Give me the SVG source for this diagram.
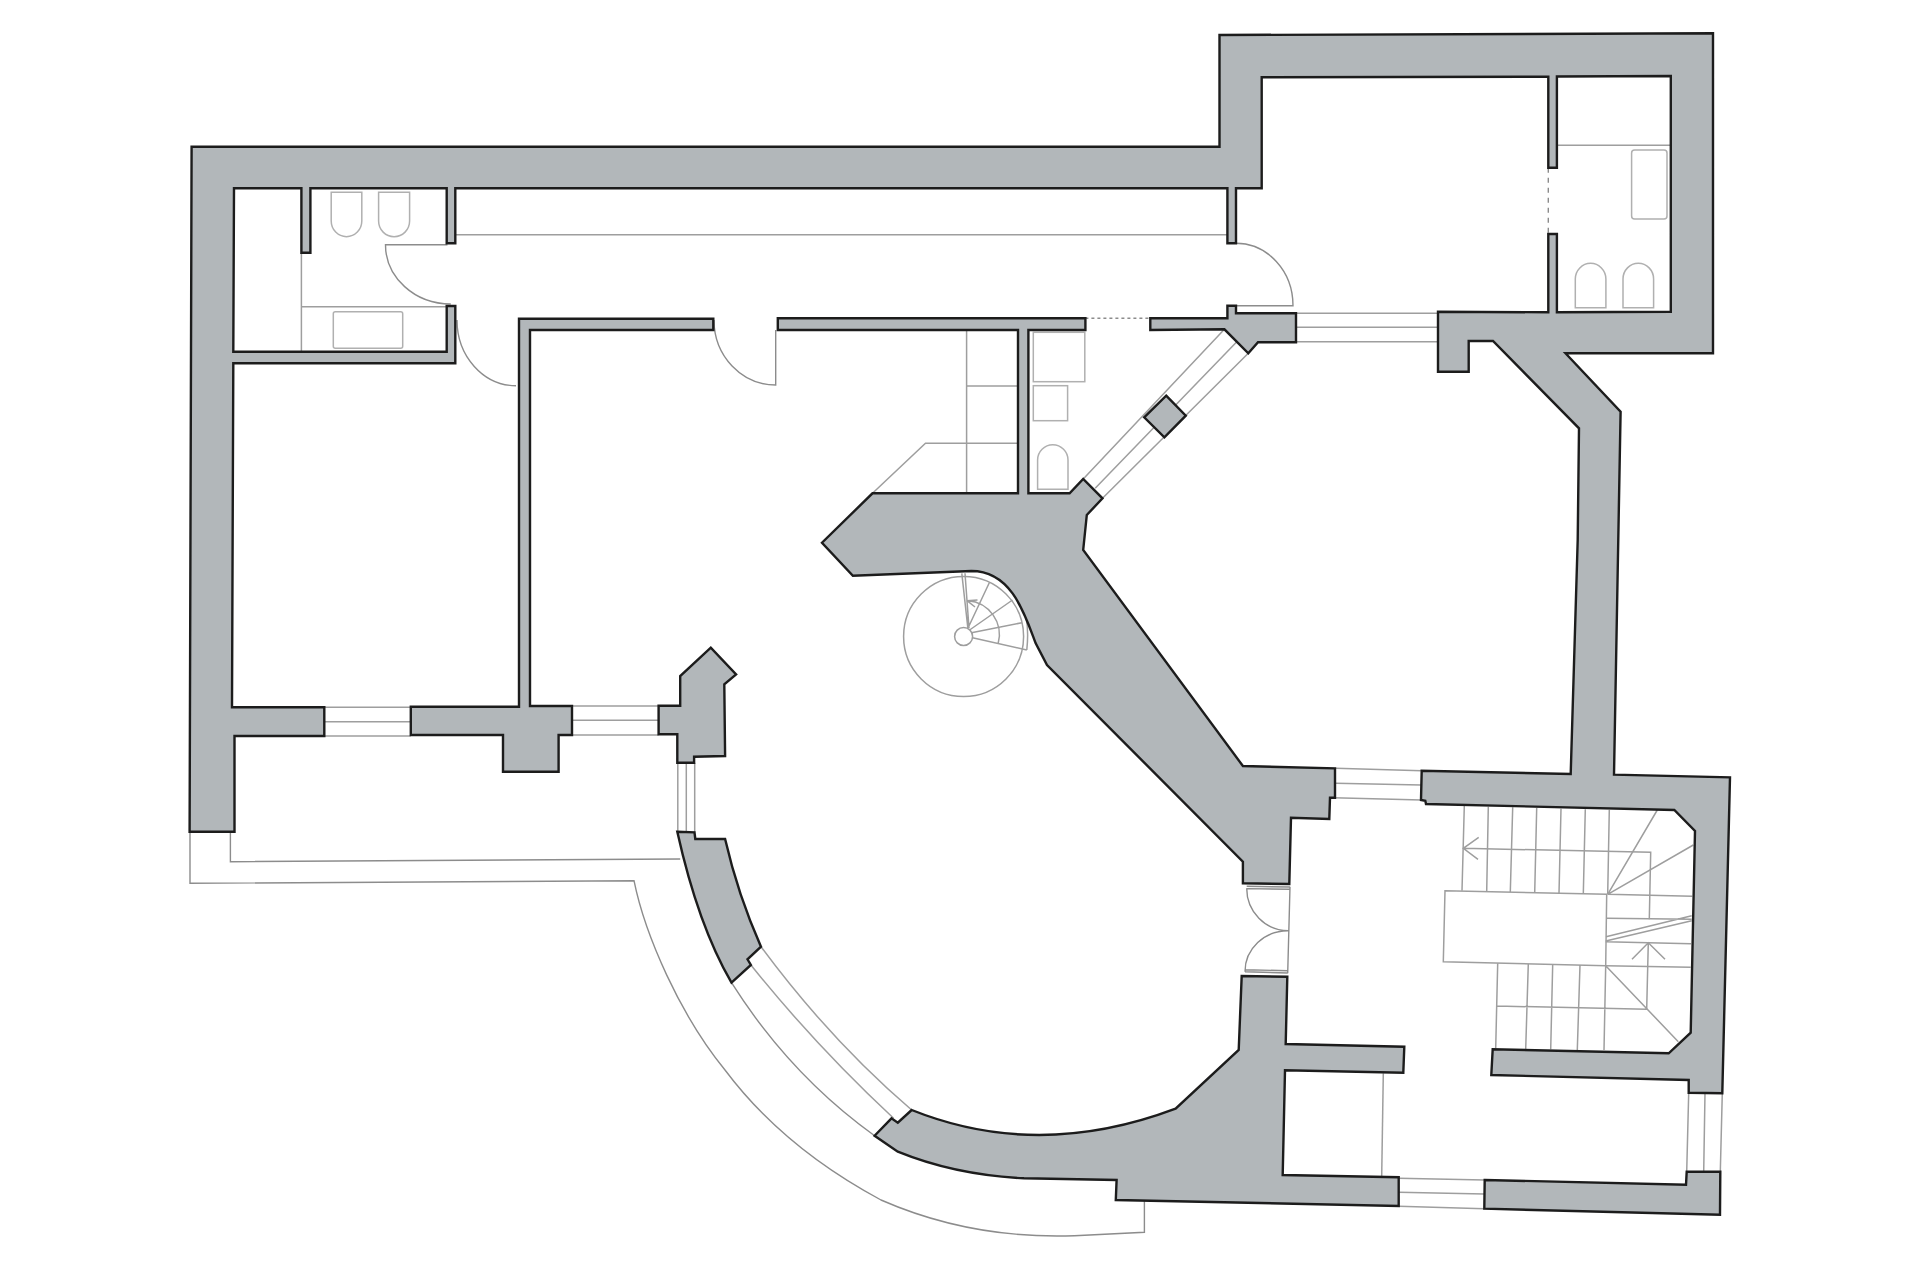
<svg xmlns="http://www.w3.org/2000/svg" width="1920" height="1280" viewBox="0 0 1920 1280">
<style>
.w{fill:#b2b7ba;stroke:#1c1c1c;stroke-width:2.4;stroke-linejoin:miter}
.g{fill:none;stroke:#9e9e9e;stroke-width:1.5}
.d{fill:none;stroke:#8c8c8c;stroke-width:1.4}
.f{fill:none;stroke:#b0b0b0;stroke-width:1.5}
</style>
<rect width="1920" height="1280" fill="#fff"/>
<g id="terrace" class="d">
<path d="M190 832V883.3L634 880.7C645 935 680 1015 725 1070C770 1130 825 1170 881 1200C945 1228 1010 1238 1074.5 1235.7L1144.4 1232.3V1200.7"/>
<path d="M230.4 832V861.7L680.2 859"/>
<path d="M731.5 982.7Q790 1075 874.6 1135.7"/>
</g>
<g id="windows" class="g">
<path d="M324.3 707.3H410.8M324.3 721.7H410.8M324.3 736H410.8"/>
<path d="M572 706H658.6M572 720.3H658.6M572 735H658.6"/>
<path d="M677.8 762.7V831.7M686.3 762.7V831.7M694.7 762.7V832"/>
<path d="M761 946.7Q830 1040 911.7 1110M750.9 965Q815 1045 893.6 1118.3"/>
<path d="M1296 313.3H1438M1296 327.3H1438M1296 341.7H1438"/>
<path d="M1224.4 329.3L1083 479.3M1237.8 340.7L1095.2 488.3M1248.3 353.3L1102.5 498.3"/>
<path d="M1335.7 768.3L1421.7 770.7M1335.7 783.3L1421 785M1333.3 797.7L1421.7 800"/>
<path d="M1398.7 1178.3L1484.7 1180M1398.7 1192.3L1484.5 1194M1398.7 1206.3L1484.3 1208.7"/>
<path d="M1688.7 1093L1686.7 1171.7M1705 1093L1703.7 1171.7M1722.3 1093L1720.3 1171.7"/>
</g>
<g id="fixtures" class="f">
<path d="M331.2 192.3H361.8V221A15.3 15.7 0 0 1 331.2 221Z"/>
<path d="M378.6 192.3H409.6V221A15.5 15.7 0 0 1 378.6 221Z"/>
<rect x="333.3" y="311.7" width="69.4" height="36.6" rx="2"/>
<rect x="1631.6" y="150" width="35.4" height="69" rx="3"/>
<path d="M1575.3 307.7V279A15.3 15.7 0 0 1 1605.9 279V307.7Z"/>
<path d="M1623 307.7V279A15.3 15.7 0 0 1 1653.6 279V307.7Z"/>
<rect x="1033.3" y="332.3" width="51.5" height="49.4"/>
<rect x="1033.3" y="385.7" width="34.3" height="35"/>
<path d="M1037.6 489.3V460A15.2 15.2 0 0 1 1068 460V489.3Z"/>
</g>
<g id="interior" class="g">
<path d="M301.4 252.7V351.7M301.4 306.7H446.7"/>
<path d="M455 234.7H1227.4"/>
<path d="M1557 145.3H1670"/>
<path d="M966.6 330V493.3M966.6 386H1018M1018 443.3H925.5L872.5 493.3"/>
<path d="M1383.3 1073.3L1381.7 1176.7"/>
</g>
<g id="doors" class="d">
<path d="M457 320A59 65.7 0 0 0 516 385.7"/>
<path d="M714 320A61.7 65 0 0 0 775.7 385V330"/>
<path d="M447.5 244.7H385.5A65.3 59.3 0 0 0 450.8 304"/>
<path d="M1236 243.3A57 62.4 0 0 1 1293 305.7H1227.4"/>
<path d="M1085.4 318.3H1150.3" stroke-dasharray="3 3" stroke-width="1.6"/>
<path d="M1548.3 167.7V234" stroke-dasharray="5 5"/>
<path d="M1290 886.7L1287.7 973.3M1246.7 886.3L1290 887M1246.7 888.6L1290 889.3M1246.7 888.3A41.6 42.4 0 0 0 1288.3 930.7M1245 971.7L1287.7 973M1245 969.7L1287.7 970.7M1245 971.7A43 41 0 0 1 1288.3 930.7"/>
</g>
<g id="spiral-stair" class="g">
<circle cx="963.6" cy="636.5" r="60"/>
<circle cx="963.6" cy="636.5" r="9"/>
<path d="M961.8 573.3L967.9 628.3M965 573.3L969 628.3M989.3 582.7L967.9 628.3M1012.5 600L969.6 630M1022 622.7L971.4 632.7M1026.8 650L972.5 637.7M1026.8 650Q1030 620 1021 602"/>
<path d="M967.9 600.7A34 34 0 0 1 998.2 643.3M967 600.7L977.5 600M967 600.7L975 607"/>
</g>
<g id="main-stair" class="g">
<path d="M1445 890.7L1606.7 894.3L1605.7 965.7L1443.3 961.7Z"/>
<path d="M1464.3 806L1462 890.7M1488.3 806.7L1486.7 891.7M1512.7 807.3L1510.3 892M1536.7 808L1534.7 892.7M1561 808.7L1559 893.3M1585.3 809.3L1583.3 894M1609.3 810L1607.7 894.3"/>
<path d="M1463.3 848.3L1650.7 852.3L1649.3 919.3M1478.7 837.3L1463.3 848.3L1478 859.3"/>
<path d="M1607.7 894.3L1657.3 810M1607.7 894.3L1693.3 845M1607.7 894.3L1692.3 896.3M1606.7 918.3L1691.7 919.3M1606 936.7L1691.7 915.7M1605.7 941L1691.7 920.7M1605.7 941.7L1691 943.7M1605.7 965.7L1690.7 967.3"/>
<path d="M1648.3 942.7L1646.7 1009.3M1632 959.3L1648.3 942.7L1665 959.3"/>
<path d="M1496.7 1006L1646.7 1009.3M1497.7 963.3L1495.7 1048.3M1528.3 964L1525.7 1049M1552.7 964.3L1550.7 1049.3M1580 965L1577.3 1050M1605.7 965.7L1604 1050M1605.7 965.7L1678.3 1041.7"/>
</g>
<g id="walls" class="w">
<path id="outer-wall" d="M189.6 831.7L191.6 146.7H1219.5V35L1713 33.3V353.3H1565.5L1620.6 411.7L1614 774.7L1730 777.3L1722.3 1093.3L1688.7 1092.7V1080L1491.3 1075L1492.7 1049.3L1668.7 1053.3L1690.7 1032.7L1695 831L1674.3 810L1426 804L1425.3 800.7L1421 800L1421.7 770.7L1570.7 774L1577.7 540L1579 428.3L1493 341H1468.7V371.7H1438V311.7L1548.3 312.3V234H1556.9V312.3L1670.8 311.7V76L1556.9 76.5V167.7H1548.3V76.7L1261.7 77.3V188.3H1236V243.3H1227.4V188.3H455.3V243.3H446.7V188.3H310.4V252.7H301.4V188.3H234L233.3 351.7H446.7V306H455.3V363.3H233.3L232 707.3H324.3V736H234.5V831.7Z"/>
<path id="corridor-wall" d="M410.8 706.7H519V318.7H713.3V330H530V706H572V735H558.6V771.7H503V735H410.8Z"/>
<path id="core" d="M777.8 318.3H1085.4V330H1028.4V493.3H1069.6L1083.2 479L1102.5 498.3L1086.8 515L1083.2 550L1242.9 766L1335 768.3V797.7H1330L1329.3 819L1291 817.7L1289.3 884L1242.9 883.3V861.7L1047 665L1035.7 643.3C1025 615 1012 571 971.4 571L852.9 575.7L822 542.7L872.5 493.3H1018V330H777.8Z"/>
<path id="corner-pier" d="M1150.3 318.3H1227.4V305.7H1236V313.3H1296V342.3H1258L1248.3 353.3L1224.4 329.3L1150.3 330Z"/>
<path id="bay-pier" d="M1166.2 395.7L1185.8 415.7L1164.4 437.3L1144.2 417.3Z"/>
<path id="arrow-pier" d="M658.6 705.7H680.2V676L710.8 647.7L736.1 674.3L724.3 684.3L725.1 756L694.1 756.7V762.7H677.3V734.3H658.6Z"/>
<path id="curved-pier" d="M677.3 831.7L694.5 832.3L695.3 839H725.1Q738 895 761 946.7L747.5 959.3L750.9 965L731.5 982.7Q698 925 677.3 831.7Z"/>
<path id="south-wall" d="M911.7 1110Q1038 1160.6 1175.6 1108.7L1238.7 1050L1241.7 976L1287.3 976.7L1285.7 1044L1404.3 1046.7L1403.3 1072.7L1285 1070.3L1282.7 1175L1398.7 1177.3V1206L1115.8 1200L1116.6 1180L1024 1178.3Q955 1175 897.8 1151.7L874.6 1135.7L891.5 1118.3L897.8 1122.7Z"/>
<path id="southeast-wall" d="M1484.7 1180L1686 1184.7L1686.7 1171.7H1720.3L1720 1214.7L1484.3 1208.7Z"/>
</g>
</svg>
